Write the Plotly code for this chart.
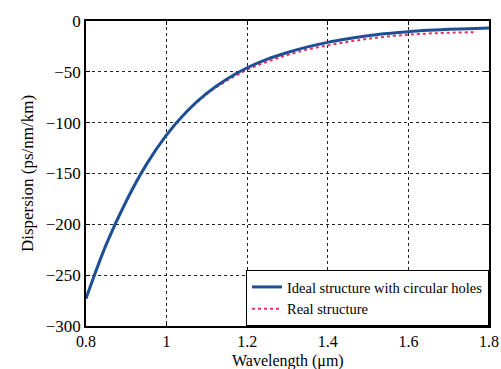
import plotly.graph_objects as go

# Wavelength samples (um) and dispersion (ps/nm/km)
wavelength_ideal = [0.80, 0.85, 0.90, 0.95, 1.00, 1.05, 1.10, 1.15, 1.20, 1.25, 1.30,
                    1.35, 1.40, 1.45, 1.50, 1.55, 1.60, 1.65, 1.70, 1.75, 1.80]
dispersion_ideal = [-273, -220, -177, -141, -112, -89, -71, -57, -46, -37.5, -31,
                    -25.5, -21, -17.5, -14.5, -12.3, -10.5, -9.2, -8.2, -7.5, -7]

wavelength_real = [0.80, 0.85, 0.90, 0.95, 1.00, 1.05, 1.10, 1.15, 1.20, 1.25, 1.30,
                   1.35, 1.40, 1.45, 1.50, 1.55, 1.60, 1.65, 1.70, 1.77]
dispersion_real = [-273, -220, -177, -141, -112, -89.5, -72, -58.5, -48, -40, -33.5,
                   -28, -24, -20.5, -17.5, -15.2, -13.4, -12.3, -11.6, -11]

x_ticks = [0.8, 1.0, 1.2, 1.4, 1.6, 1.8]
x_tick_text = ["0.8", "1", "1.2", "1.4", "1.6", "1.8"]
y_ticks = [0, -50, -100, -150, -200, -250, -300]
y_tick_text = ["0", "\u221250", "\u2212100", "\u2212150", "\u2212200", "\u2212250", "\u2212300"]

FONT = "Liberation Serif, Times New Roman, serif"

fig = go.Figure()
# dotted curve first so the solid one sits on top
fig.add_trace(go.Scatter(
    x=wavelength_real, y=dispersion_real, mode="lines",
    line=dict(color="#e8305a", width=2, dash="dot", shape="spline"),
    name="Real structure", legendrank=2,
))
fig.add_trace(go.Scatter(
    x=wavelength_ideal, y=dispersion_ideal, mode="lines",
    line=dict(color="#1d4f96", width=3, shape="spline"),
    name="Ideal structure with circular holes", legendrank=1,
))

axis_common = dict(
    showline=True, linecolor="black", linewidth=1.5, mirror="ticks",
    ticks="inside", ticklen=4, tickcolor="black",
    showgrid=True, gridcolor="#222222", gridwidth=1, griddash="dot",
    zeroline=False, automargin=False,
)

fig.update_xaxes(
    range=[0.8, 1.8], tickvals=x_ticks, ticktext=x_tick_text,
    ticklabelstandoff=0,
    tickfont=dict(family=FONT, size=16, color="black"),
    **axis_common,
)
fig.update_yaxes(
    range=[-300, 0], tickvals=y_ticks, ticktext=y_tick_text,
    tickfont=dict(family=FONT, size=17, color="black"),
    title=dict(text="Dispersion (ps/nm/km)", font=dict(family=FONT, size=17, color="black"), standoff=8),
    **axis_common,
)

# x-axis title placed just under the tick labels
fig.add_annotation(
    text="Wavelength (\u03bcm)", xref="paper", yref="paper", x=0.5, y=0,
    xanchor="center", yanchor="top", yshift=-24, showarrow=False,
    font=dict(family=FONT, size=16, color="black"),
)

fig.update_layout(
    width=501, height=369,
    margin=dict(l=86, r=12, t=21, b=43),
    paper_bgcolor="white", plot_bgcolor="white",
    showlegend=True,
    legend=dict(
        x=1, y=0, xanchor="right", yanchor="bottom",
        bgcolor="white", bordercolor="black", borderwidth=1,
        font=dict(family=FONT, size=14.5, color="black"),
        tracegroupgap=0,
    ),
)

fig.write_html("out.html")
